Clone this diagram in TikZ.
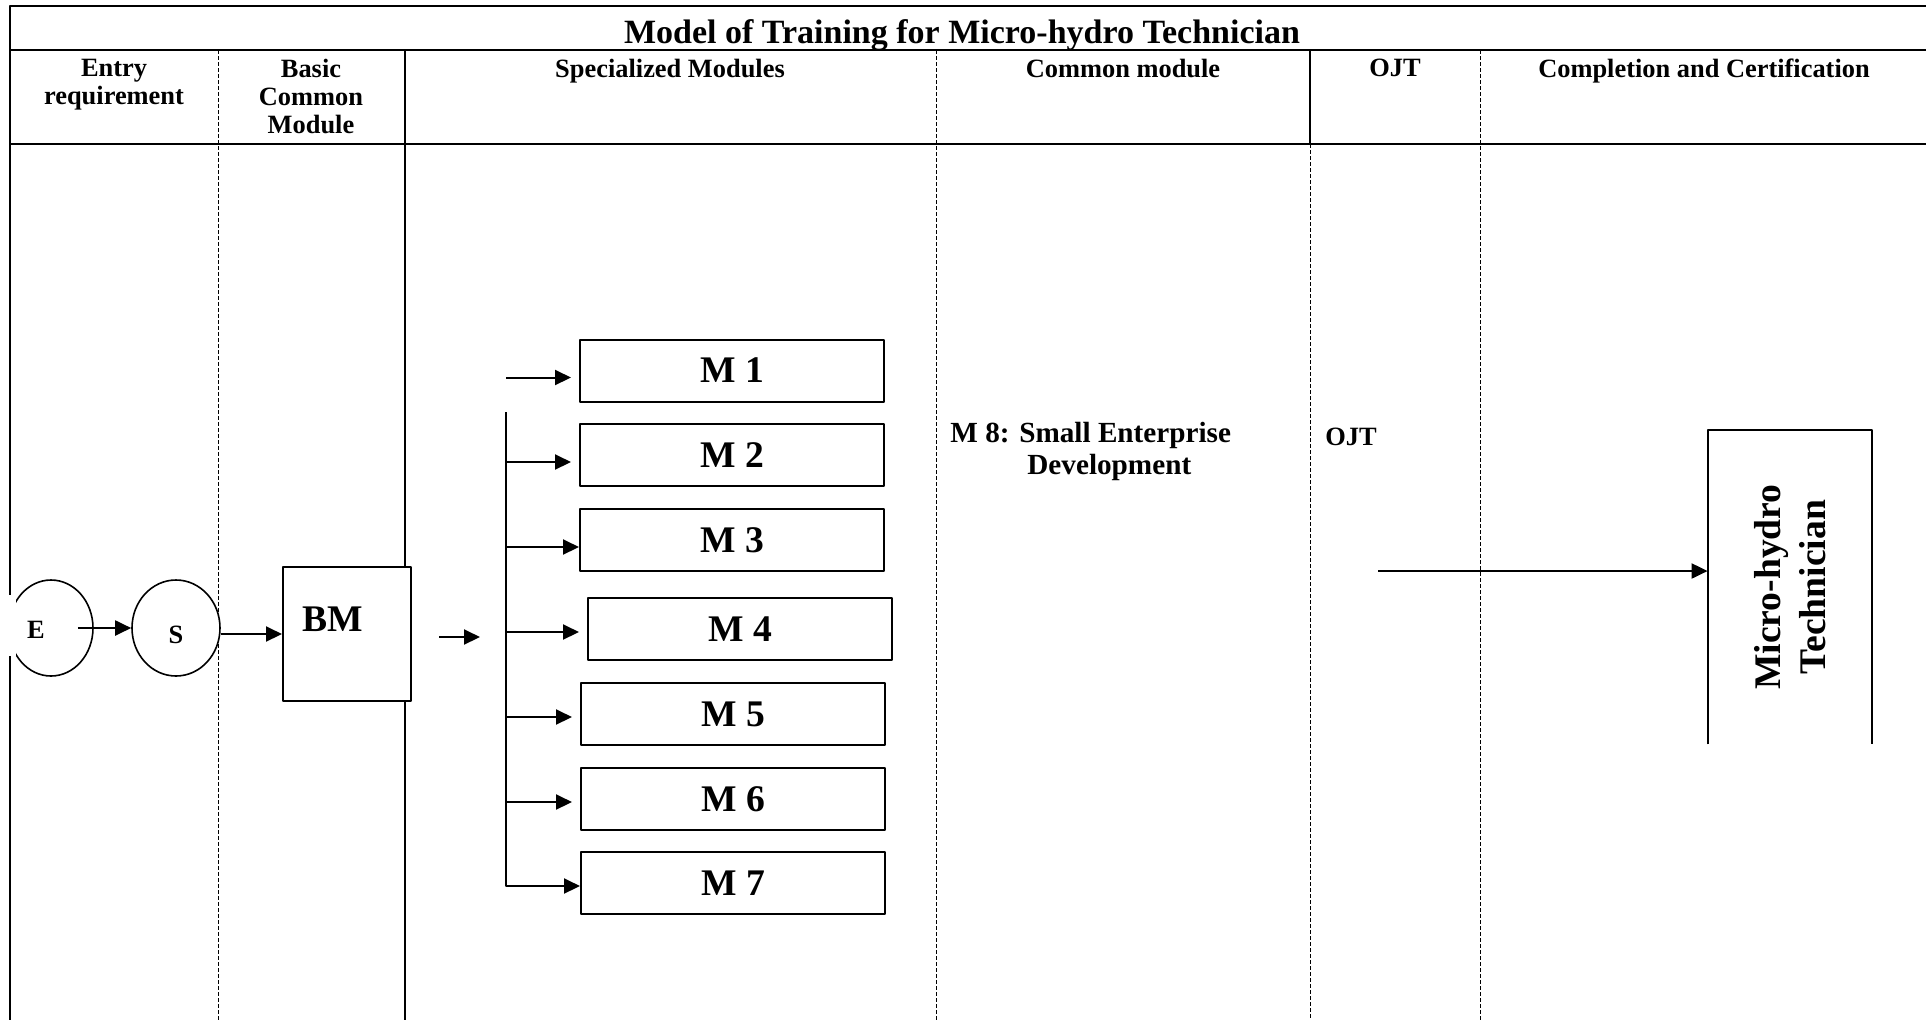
\documentclass[tikz,border=0pt]{standalone}
\usepackage{fontspec}
\setmainfont{Liberation Serif}
\usetikzlibrary{shapes.geometric,arrows.meta}
\newcommand{\hdfont}{\fontsize{13.2}{14}\selectfont\bfseries}
\newcommand{\bodyfont}{\fontsize{14.6}{16}\selectfont\bfseries}
\newcommand{\ttlfont}{\fontsize{17}{20}\selectfont\bfseries}
\newcommand{\modfont}{\fontsize{18.8}{22.5}\selectfont\bfseries}

\begin{document}
\begin{tikzpicture}[x=0.5pt,y=-0.5pt,join=round, % Training model chart
  tabrule/.style={line width=1.4pt},
  colsep/.style={line width=0.5pt,dash pattern=on 2pt off 1pt},
  hd/.style={font=\hdfont,align=center,anchor=north,inner sep=0pt},
  modbox/.style={draw,line width=1pt,fill=white,inner sep=0pt,minimum width=152pt,minimum height=31pt,font=\modfont},
  stagecirc/.style={draw,ellipse,line width=0.8pt,fill=white,inner sep=0pt,minimum height=48pt},
  arr/.style={line width=1pt,-{Triangle[length=8pt,width=7.5pt]}}]
         \useasboundingbox (0,0) rectangle (1926,1019);
         \draw[tabrule] (1930,6) -- (10,6) -- (10,1025);
         \draw[tabrule] (10,50) -- (1930,50);
         \draw[tabrule] (10,144) -- (1930,144);
         \draw[line width=1pt] (405,50) -- (405,1025);
         \draw[line width=1pt] (1310,50) -- (1310,144);
         \draw[colsep] (218,50) -- (218,1025);
         \draw[colsep] (936,50) -- (936,1025);
         \draw[colsep] (1310,144) -- (1310,1025);
         \draw[colsep] (1480,50) -- (1480,1025);
         \node[font=\ttlfont,anchor=base,inner sep=0pt] (title) at (962,43) {Model of Training for Micro-hydro Technician};
         \node[hd] (hentry) at (114,59) {Entry\\requirement};
         \node[hd] (hbasic) at (311,59) {Basic\\Common\\Module};
         \node[hd] (hspec) at (670,59) {Specialized Modules};
         \node[hd] (hcommon) at (1123,59) {Common module};
         \node[hd] (hojt) at (1395,59) {OJT};
         \node[hd] (hcert) at (1704,59) {Completion and Certification};
         \node[stagecirc,minimum width=42pt,label={[name=etxt,font=\hdfont,inner sep=0pt,xshift=-7.5pt,yshift=-1pt]center:E}] (e) at (51,628) {};
         \fill[white] (0,595) rectangle (16,656);
         \node[stagecirc,minimum width=44pt,label={[name=stxt,font=\hdfont,inner sep=0pt,yshift=-3.5pt]center:S}] (s) at (176,628) {};
         \node[modbox,minimum width=64pt,minimum height=67pt,label={[name=bmtxt,font=\modfont,inner sep=0pt,xshift=-7pt,yshift=7.25pt]center:BM}] (bm) at (347,634) {};
         \draw[arr] ([xshift=-8pt]e.east) -- (s.west);
         \draw[arr] (s.east |- bm.west) -- (bm.west);
         \coordinate (split) at (480,637);
         \coordinate (trunk) at (506,412);
         \draw[arr] ([xshift=13.5pt]bm.east |- split) -- (split);
         \node[modbox] (m1) at (732,370.5) {M 1};
         \node[modbox] (m2) at (732,455) {M 2};
         \node[modbox] (m3) at (732,540) {M 3};
         \node[modbox] (m4) at (740,629) {M 4};
         \node[modbox] (m5) at (733,714) {M 5};
         \node[modbox] (m6) at (733,799) {M 6};
         \node[modbox] (m7) at (733,883) {M 7};
         \draw[arr] ([yshift=-3.5pt]trunk |- m1.west) -- ([xshift=-4pt,yshift=-3.5pt]m1.west);
         \draw[arr] ([yshift=-3.5pt]trunk |- m2.west) -- ([xshift=-4pt,yshift=-3.5pt]m2.west);
         \draw[arr] ([yshift=-3.5pt]trunk |- m3.west) -- ([yshift=-3.5pt]m3.west);
         \draw[arr] ([yshift=-1.5pt]trunk |- m4.west) -- ([xshift=-4pt,yshift=-1.5pt]m4.west);
         \draw[arr] ([yshift=-1.5pt]trunk |- m5.west) -- ([xshift=-4pt,yshift=-1.5pt]m5.west);
         \draw[arr] ([yshift=-1.5pt]trunk |- m6.west) -- ([xshift=-4pt,yshift=-1.5pt]m6.west);
         \draw[arr] (trunk) |- ([yshift=-1.5pt]m7.west);
         \node[font=\bodyfont,align=left,anchor=north west,inner sep=0pt] (m8) at (950,422) {M 8: Small Enterprise\\\hspace*{38.5pt}Development};
         \node[font=\hdfont,anchor=base west,inner sep=0pt] (ojt) at (1325,445) {OJT};
         \coordinate (ojtout) at (1378,571);
         \node[inner sep=0pt,minimum width=82pt,minimum height=157pt] (tech) at (1790,587) {};
         \draw[line width=1pt] (tech.south west) -- (tech.north west) -- (tech.north east) -- (tech.south east);
         \node[font=\modfont,align=center,rotate=90,inner sep=0pt] (techtxt) at (tech.center) {Micro-hydro\\Technician};
         \draw[arr] (ojtout) -- (tech.west |- ojtout);
      \end{tikzpicture}
\end{document}
